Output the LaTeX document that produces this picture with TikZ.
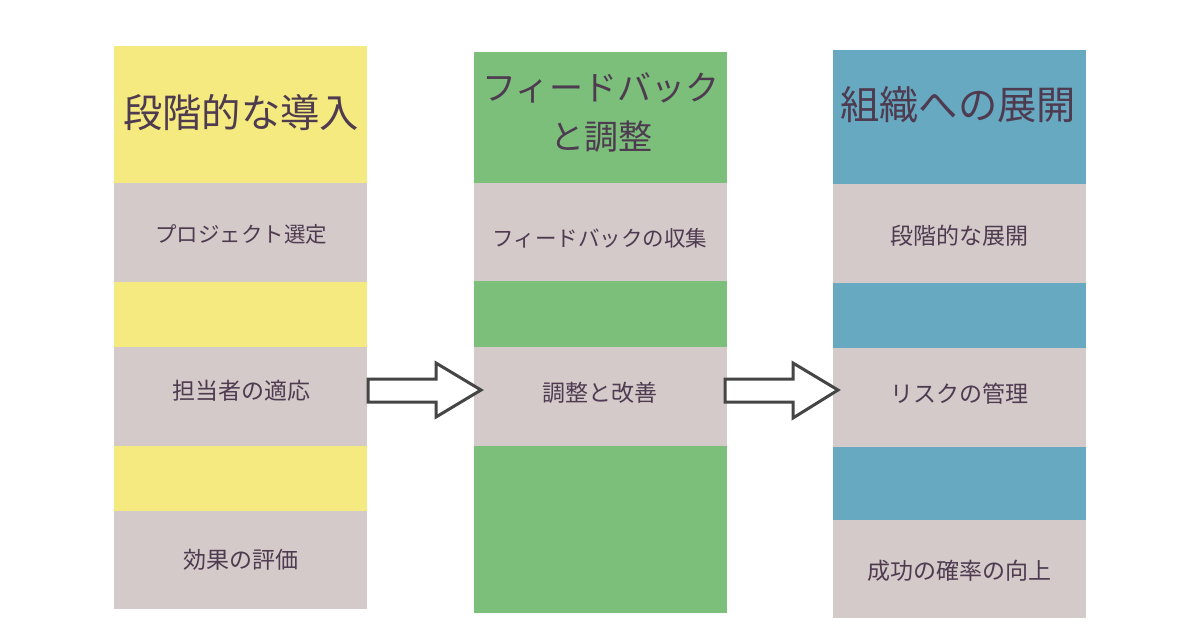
\documentclass[tikz,border=0pt]{standalone}
\usepackage{fontspec}
\setmainfont{Noto Sans CJK JP}
\begin{document}
\begin{tikzpicture}[x=1pt,y=-1pt,
  txt/.style={text=tcol,inner sep=0pt,anchor=center},
  head/.style={txt,font=\fontsize{39.3}{46}\selectfont},
  item/.style={txt,font=\fontsize{23}{27}\selectfont},
  kitem/.style={txt,font=\fontsize{21.5}{27}\selectfont},
  arr/.style={draw=acol,line width=3pt,fill=white,line join=miter}]
\definecolor{ycol}{HTML}{F5EA7F}
\definecolor{gcol}{HTML}{7BBF7B}
\definecolor{bcol}{HTML}{66A9C1}
\definecolor{graycol}{HTML}{D5CACA}
\definecolor{tcol}{HTML}{4E3B50}
\definecolor{acol}{HTML}{454545}
\useasboundingbox (0,0) rectangle (1200,630);
\fill[white] (0,0) rectangle (1200,630);
% column 1
\fill[ycol] (114,46) rectangle (367,609);
\fill[graycol] (114,183) rectangle (367,282);
\fill[graycol] (114,347) rectangle (367,446);
\fill[graycol] (114,511) rectangle (367,609);
% column 2
\fill[gcol] (474,52) rectangle (727,613);
\fill[graycol] (474,183) rectangle (727,281);
\fill[graycol] (474,347) rectangle (727,446);
% column 3
\fill[bcol] (833,50) rectangle (1086,618);
\fill[graycol] (833,184) rectangle (1086,283);
\fill[graycol] (833,348) rectangle (1086,447);
\fill[graycol] (833,520) rectangle (1086,618);
% headers
\node[head] (h1) at (241,113) {段階的な導入};
\node[txt,font=\fontsize{34}{49}\selectfont,align=center] (h2) at (601,113) {フィードバック\\と調整};
\node[head] (h3) at (958,105) {組織への展開};
% items
\node[kitem] (a1) at (241,234) {プロジェクト選定};
\node[item] (a2) at (241,391) {担当者の適応};
\node[item] (a3) at (241,560) {効果の評価};
\node[kitem] (b1) at (600,238) {フィードバックの収集};
\node[item] (b2) at (600,393) {調整と改善};
\node[item] (c1) at (959,236) {段階的な展開};
\node[item] (c2) at (959,394) {リスクの管理};
\node[item] (c3) at (959,571) {成功の確率の向上};
% arrows
\draw[arr] (368,379) -- (436,379) -- (436,363) -- (481,390) -- (436,417) -- (436,402) -- (368,402) -- cycle;
\draw[arr] (725,379) -- (793,379) -- (793,363) -- (838,390) -- (793,418) -- (793,402) -- (725,402) -- cycle;
\end{tikzpicture}
\end{document}
